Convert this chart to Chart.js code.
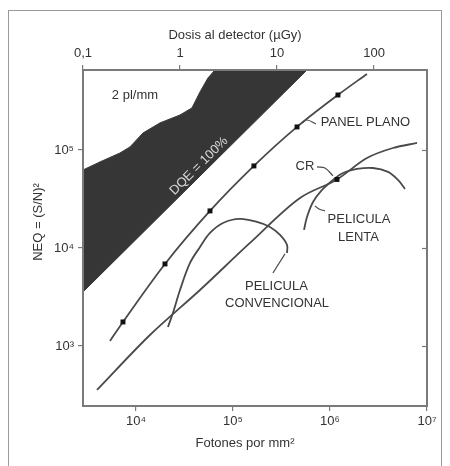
<!DOCTYPE html>
<html>
<head>
<meta charset="utf-8">
<script src="https://cdn.jsdelivr.net/npm/chart.js@4"></script>
<style>
  html, body { margin:0; padding:0; background:#fff; }
  #wrap { width:450px; height:466px; }
</style>
</head>
<body>
<div id="wrap"><canvas id="chart" width="450" height="466"></canvas></div>
<script>
// ejes
var xTicks = [1e4, 1e5, 1e6, 1e7];
var xTickLabels = ['10⁴', '10⁵', '10⁶', '10⁷'];
var doseTicks = [0.1, 1, 10, 100];
var doseTickLabels = ['0,1', '1', '10', '100'];
var yTicks = [1e3, 1e4, 1e5];
var yTickLabels = ['10³', '10⁴', '10⁵'];
var fotonesPorUGy = 28440;
var xMin = 2844, xMax = 1e7, yMin = 244, yMax = 654600;

// zona oscura: borde 2 pl/mm y recta DQE = 100%
var dqeX = [2844, 4256, 6839, 8670, 11800, 17660, 28440, 37760, 45710, 55210, 65160, 579400, 2844];
var dqeY = [62520, 75510, 93110, 107400, 148900, 188800, 227500, 268500, 390800, 543300, 654600, 654600, 3556];

// panel plano (con marcadores)
var panelX = [5395, 7345, 19910, 57940, 164400, 457100, 1208000, 2404000];
var panelY = [1125, 1758, 6871, 23880, 68710, 171800, 363900, 597000];

// CR
var crX = [3963, 13930, 45710, 149600, 490900, 1180000, 2404000, 4457000, 7889000];
var crY = [355.6, 1294, 3724, 11250, 32360, 50000, 82790, 104700, 117800];

// pelicula convencional
var convX = [21380, 24040, 28440, 36060, 45710, 57940, 78890, 118000, 176600, 240400, 305500, 360600, 360600];
var convY = [1563, 2173, 3724, 7031, 10230, 14220, 17990, 19770, 18410, 16370, 13580, 10740, 8892];

// pelicula lenta
var lentaX = [539500, 579400, 668300, 827900, 1074000, 1361000, 1897000, 2773000, 3963000, 5023000, 5929000];
var lentaY = [15280, 20700, 29440, 39080, 49430, 58210, 63970, 65460, 59700, 49430, 39990];

// lineas guia de las etiquetas
var guiaPanelX = [514000, 579400, 717800], guiaPanelY = [188800, 202300, 184100];
var guiaCrX = [734500, 887200, 1074000], guiaCrY = [67140, 65460, 54330];
var guiaLentaX = [700000, 771000, 887200], guiaLentaY = [26850, 25000, 23880];
var guiaConvX = [343600, 258200], guiaConvY = [8690, 5560];

function pts(xs, ys) {
	return xs.map(function(x, i) { return {x: x, y: ys[i]}; });
}

var gris = '#4a4a4a';
var fuente = '"Liberation Sans", Arial, sans-serif';

var notas = [
	{t: '2 pl/mm', x: 9760, y: 363900},
	{t: 'PANEL PLANO', x: 2323000, y: 188800},
	{t: 'CR', x: 552100, y: 68710},
	{t: 'PELICULA', x: 1991000, y: 19770},
	{t: 'LENTA', x: 1968000, y: 12940},
	{t: 'PELICULA', x: 280500, y: 4093},
	{t: 'CONVENCIONAL', x: 284400, y: 2748}
];

var textos = {
	id: 'textos',
	beforeDraw: function(chart) {
		var c = chart.ctx;
		c.save();
		c.strokeStyle = '#9a9a9a';
		c.lineWidth = 1;
		c.strokeRect(8.5, 10.5, 433, 470);
		c.restore();
	},
	afterDatasetsDraw: function(chart) {
		var c = chart.ctx, a = chart.chartArea;
		var sx = chart.scales.x, sy = chart.scales.y;
		c.save();
		c.strokeStyle = '#7a7a7a';
		c.lineWidth = 2;
		c.strokeRect(a.left, a.top, a.right - a.left, a.bottom - a.top);
		c.lineWidth = 1.2;
		yTicks.forEach(function(v) {
			var py = Math.round(sy.getPixelForValue(v)) + 0.5;
			c.beginPath(); c.moveTo(a.right - 5, py); c.lineTo(a.right, py); c.stroke();
		});

		c.fillStyle = '#333';
		c.font = '13px ' + fuente;
		c.textAlign = 'center';
		c.textBaseline = 'middle';
		notas.forEach(function(n) {
			c.fillText(n.t, sx.getPixelForValue(n.x), sy.getPixelForValue(n.y));
		});

		// DQE = 100% sobre la zona oscura
		c.save();
		c.translate(sx.getPixelForValue(44570), sy.getPixelForValue(68710));
		c.rotate(-Math.PI / 4);
		c.fillStyle = '#d8d8d8';
		c.fillText('DQE = 100%', 0, 0);
		c.restore();

		// titulos de ejes
		c.fillText('Dosis al detector (µGy)', a.left + 152, a.top - 35);
		c.fillText('Fotones por mm²', a.left + 162, a.bottom + 37);
		c.save();
		c.translate(38, a.top + 152);
		c.rotate(-Math.PI / 2);
		c.fillText('NEQ = (S/N)²', 0, 0);
		c.restore();
		c.restore();
	}
};

function linea(xs, ys, extra) {
	var d = {
		data: pts(xs, ys),
		showLine: true,
		borderColor: gris,
		borderWidth: 1.8,
		pointRadius: 0,
		tension: 0.35,
		fill: false
	};
	for (var k in extra) d[k] = extra[k];
	return d;
}

var ctx = document.getElementById('chart');
new Chart(ctx, {
	type: 'scatter',
	data: {
		datasets: [
			linea(dqeX, dqeY, {fill: 'shape', backgroundColor: '#363636', borderColor: '#363636', borderWidth: 1, tension: 0}),
			linea(panelX, panelY, {cubicInterpolationMode: 'monotone', pointRadius: [0, 3.5, 3.5, 3.5, 3.5, 3.5, 3.5, 0], pointStyle: 'rect', pointBackgroundColor: '#111', pointBorderColor: '#111', pointBorderWidth: 0}),
			linea(crX, crY, {cubicInterpolationMode: 'monotone', pointRadius: [0, 0, 0, 0, 0, 3.5, 0, 0, 0], pointStyle: 'rect', pointBackgroundColor: '#111', pointBorderColor: '#111', pointBorderWidth: 0}),
			linea(convX, convY),
			linea(lentaX, lentaY),
			linea(guiaPanelX, guiaPanelY, {borderWidth: 1.2, tension: 0.4}),
			linea(guiaCrX, guiaCrY, {borderWidth: 1.2, tension: 0.4}),
			linea(guiaLentaX, guiaLentaY, {borderWidth: 1.2, tension: 0.4}),
			linea(guiaConvX, guiaConvY, {borderWidth: 1.2, tension: 0})
		]
	},
	options: {
		responsive: false,
		animation: false,
		devicePixelRatio: 1,
		layout: { padding: { left: 0, right: 23, top: 0, bottom: 0 } },
		plugins: { legend: { display: false }, tooltip: { enabled: false } },
		scales: {
			x: {
				type: 'logarithmic',
				position: 'bottom',
				min: xMin, max: xMax,
				afterBuildTicks: function(s) { s.ticks = xTicks.map(function(v) { return {value: v}; }); },
				afterFit: function(s) { s.height = 60; },
				ticks: {
					color: '#333', font: { size: 13, family: fuente }, padding: 3, maxRotation: 0, autoSkip: false,
					callback: function(v) { return xTickLabels[xTicks.indexOf(v)]; }
				},
				grid: { drawOnChartArea: false, drawTicks: true, tickLength: 5, color: '#7a7a7a', lineWidth: 1.2 },
				border: { display: false }
			},
			dosis: {
				type: 'logarithmic',
				position: 'top',
				min: xMin / fotonesPorUGy, max: xMax / fotonesPorUGy,
				afterBuildTicks: function(s) { s.ticks = doseTicks.map(function(v) { return {value: v}; }); },
				afterFit: function(s) { s.height = 70; },
				ticks: {
					color: '#333', font: { size: 13, family: fuente }, padding: 4, maxRotation: 0, autoSkip: false,
					callback: function(v) { return doseTickLabels[doseTicks.indexOf(v)]; }
				},
				grid: { drawOnChartArea: false, drawTicks: true, tickLength: 5, color: '#7a7a7a', lineWidth: 1.2 },
				border: { display: false }
			},
			y: {
				type: 'logarithmic',
				position: 'left',
				min: yMin, max: yMax,
				afterBuildTicks: function(s) { s.ticks = yTicks.map(function(v) { return {value: v}; }); },
				afterFit: function(s) { s.width = 83; },
				ticks: {
					color: '#333', font: { size: 13, family: fuente }, padding: 4, autoSkip: false,
					callback: function(v) { return yTickLabels[yTicks.indexOf(v)]; }
				},
				grid: { drawOnChartArea: false, drawTicks: true, tickLength: 5, color: '#7a7a7a', lineWidth: 1.2 },
				border: { display: false }
			}
		}
	},
	plugins: [textos]
});
</script>
</body>
</html>
